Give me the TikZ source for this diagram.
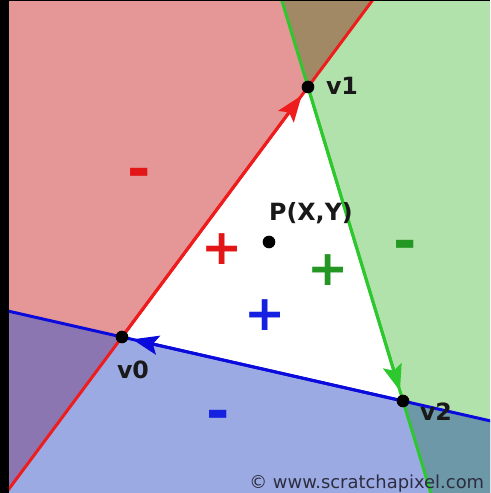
\documentclass[tikz,border=0pt]{standalone}
\usepackage{fontspec}
\setmainfont{DejaVu Sans}
\usetikzlibrary{calc,arrows.meta}

\definecolor{halfred}{RGB}{229,150,150}
\definecolor{halfgreen}{RGB}{178,226,172}
\definecolor{halfblue}{RGB}{155,170,226}
\definecolor{redgreen}{RGB}{160,137,100}
\definecolor{redblue}{RGB}{140,118,178}
\definecolor{greenblue}{RGB}{108,152,168}
\definecolor{edgered}{RGB}{238,28,28}
\definecolor{edgegreen}{RGB}{45,200,45}
\definecolor{edgeblue}{RGB}{10,10,220}
\definecolor{signred}{RGB}{226,22,22}
\definecolor{signgreen}{RGB}{35,150,35}
\definecolor{signblue}{RGB}{22,32,224}
\definecolor{copygray}{RGB}{45,45,65}

\begin{document}
\begin{tikzpicture}[x=0.02cm,y=-0.02cm,
  edge/.style={line width=1.7pt},
  arrowedge/.style={line width=1.7pt,-{Stealth[length=15pt,width=11pt,inset=3pt]},shorten >=6pt},
  sign/.style={font=\fontsize{28}{28}\selectfont\bfseries,inner sep=0pt},
  minus/.style={font=\fontsize{32}{32}\selectfont\bfseries,inner sep=0pt},
  lbl/.style={font=\fontsize{13.5}{13.5}\selectfont\bfseries,text=black!90,inner sep=0pt}]

% Frame (sizes in pixels)
\useasboundingbox (0,0) rectangle (490,493);
\fill[black] (0,0) rectangle (490,493);
\fill[white] (9,2) rectangle (490,493);

% Vertices and the point P
\coordinate (V0) at (122,337);
\coordinate (V1) at (308,87);
\coordinate (V2) at (403,401);
\coordinate (P) at (269,242);

% Outer side of each edge
\def\RedSide{($(V0)!-1!(V1)$) -- ($(V1)!-1!(V0)$) -- (-100,-200) -- (-100,600) -- cycle}
\def\GreenSide{($(V1)!-1!(V2)$) -- ($(V2)!-1!(V1)$) -- (600,715) -- (600,-227) -- cycle}
\def\BlueSide{($(V0)!-1!(V2)$) -- ($(V2)!-1!(V0)$) -- (684,600) -- (-159,600) -- cycle}

\begin{scope}
  \clip (9,2) rectangle (490,493);
  % Half planes
  \fill[halfred] \RedSide;
  \fill[halfgreen] \GreenSide;
  \fill[halfblue] \BlueSide;
  % Where two of them meet
  \begin{scope}
    \clip \RedSide;
    \fill[redgreen] \GreenSide;
    \fill[redblue] \BlueSide;
  \end{scope}
  \begin{scope}
    \clip \GreenSide;
    \fill[greenblue] \BlueSide;
  \end{scope}
  % Edge lines, drawn right across
  \draw[edge,edgered] ($(V0)!-1!(V1)$) -- ($(V1)!-1!(V0)$);
  \draw[edge,edgegreen] ($(V1)!-1!(V2)$) -- ($(V2)!-1!(V1)$);
  \draw[edge,edgeblue] ($(V0)!-1!(V2)$) -- ($(V2)!-1!(V0)$);
\end{scope}

% Edge directions
\draw[arrowedge,edgered] (V0) -- (V1);
\draw[arrowedge,edgegreen] (V1) -- (V2);
\draw[arrowedge,edgeblue] (V2) -- (V0);

% Points
\foreach \v in {V0,V1,V2,P}
  \fill (\v) circle (3.6pt);

% Labels
\node[lbl] (L0) at (133,370) {v0};
\node[lbl] (L1) at (342,86) {v1};
\node[lbl] (L2) at (436,412) {v2};
\node[lbl] (LP) at (311,213) {P(X,Y)};

% Signs of the edge functions
\node[sign,signred] (SR) at (222,249) {+};
\node[sign,signgreen] (SG) at (328,270) {+};
\node[sign,signblue] (SB) at (265,315) {+};
\node[minus,signred] (MR) at (139,178) {-};
\node[minus,signgreen] (MG) at (405,250) {-};
\node[minus,signblue] (MB) at (218,420) {-};

% Credit line
\node[anchor=base west,font=\fontsize{10.2}{10.2}\selectfont,text=copygray,inner sep=0pt] (CR) at (249,488) {© www.scratchapixel.com};

\end{tikzpicture}
\end{document}
